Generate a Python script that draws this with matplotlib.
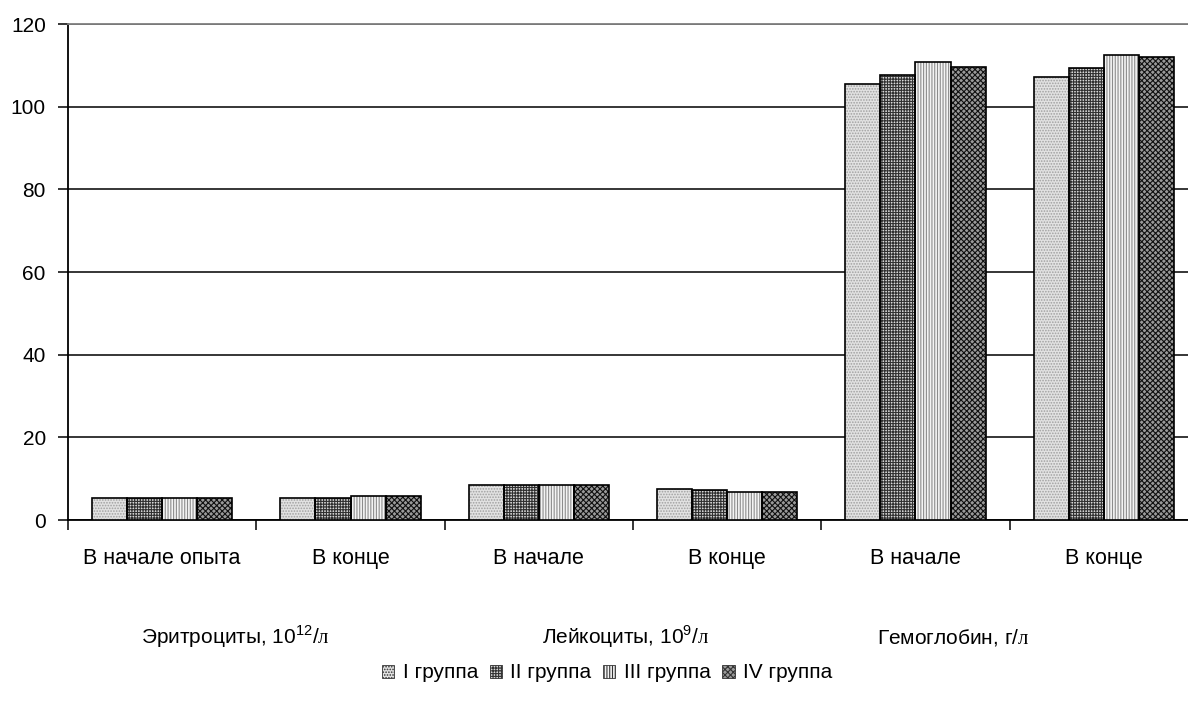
import numpy as np
import matplotlib.pyplot as plt
from matplotlib.patches import Patch
from matplotlib.transforms import blended_transform_factory

plt.rcParams['font.family'] = ['Liberation Sans', 'DejaVu Sans']
plt.rcParams['mathtext.fontset'] = 'custom'
plt.rcParams['mathtext.rm'] = 'Liberation Sans'
plt.rcParams['mathtext.sf'] = 'Liberation Serif'
plt.rcParams['hatch.linewidth'] = 0.8

categories = ['В начале опыта', 'В конце', 'В начале', 'В конце', 'В начале', 'В конце']
group_labels = [r'Эритроциты, $\mathrm{10}^{\mathrm{12}}$/$\mathsf{л}$',
                r'Лейкоциты, $\mathrm{10}^{\mathrm{9}}$/$\mathsf{л}$',
                r'Гемоглобин, г/$\mathsf{л}$']
group_label_x = [0.89, 2.96, 4.70]
series_names = ['I группа', 'II группа', 'III группа', 'IV группа']

group1 = [5.3, 5.3, 8.5, 7.5, 105.5, 107.2]
group2 = [5.3, 5.3, 8.5, 7.2, 107.7, 109.4]
group3 = [5.3, 5.8, 8.5, 6.7, 110.8, 112.5]
group4 = [5.3, 5.8, 8.5, 6.7, 109.6, 112.0]
series = [group1, group2, group3, group4]

# fill colour, hatch colour, hatch pattern per series
styles = [
    ('#e2e2e2', '#a0a0a0', '......'),
    ('#d8d8d8', '#303030', '++++++'),
    ('#f4f4f4', '#8c8c8c', '||||||'),
    ('#9a9a9a', '#111111', 'xxxxxx'),
]

FS = 15

fig = plt.figure(figsize=(11.88, 7.04), dpi=100)
ax = fig.add_axes([68 / 1188, 1 - 520 / 704, 1130 / 1188, 496 / 704])

x = np.arange(len(categories))
width = 0.186
offsets = (np.arange(4) - 1.5) * width

for vals, off, (fc, hc, hatch) in zip(series, offsets, styles):
    ax.bar(x + 0.5 + off, vals, width, color=fc, edgecolor=hc, hatch=hatch,
           linewidth=0, zorder=3)
    ax.bar(x + 0.5 + off, vals, width, facecolor='none', edgecolor='black',
           linewidth=1.2, zorder=4)

ax.set_xlim(0, len(categories))
ax.set_ylim(0, 120)
ax.set_yticks(np.arange(0, 121, 20))
ax.yaxis.grid(True, color='black', linewidth=1.1, zorder=0)
ax.set_axisbelow(True)

ax.set_xticks(np.arange(0, len(categories) + 1))
ax.set_xticklabels([])
ax.tick_params(axis='x', which='major', length=7, width=1.1, direction='out')
ax.tick_params(axis='y', length=7, width=1.1, direction='out', pad=9, labelsize=FS)

ax.spines['right'].set_visible(False)
ax.spines['top'].set_color('#808080')
ax.spines['top'].set_linewidth(1.3)
ax.spines['left'].set_linewidth(1.3)
ax.spines['bottom'].set_linewidth(1.3)

trans = blended_transform_factory(ax.transData, ax.transAxes)
for xi, lab in zip(x, categories):
    ax.text(xi + 0.5, -44 / 496, lab, transform=trans, ha='center', va='baseline',
            fontsize=15.5)
for gx, lab in zip(group_label_x, group_labels):
    ax.text(gx, -124 / 496, lab, transform=trans, ha='center', va='baseline',
            fontsize=FS)

handles = [Patch(facecolor=fc, edgecolor='#333333', hatch=h, linewidth=0.6)
           for fc, hc, h in styles]
fig.legend(handles, series_names, loc='center', bbox_to_anchor=(607 / 1188, 1 - 673 / 704),
           ncol=4, frameon=False, fontsize=FS, handlelength=0.6, handleheight=0.6,
           handletextpad=0.4, columnspacing=0.55)

fig.savefig('out.png', dpi=100)
